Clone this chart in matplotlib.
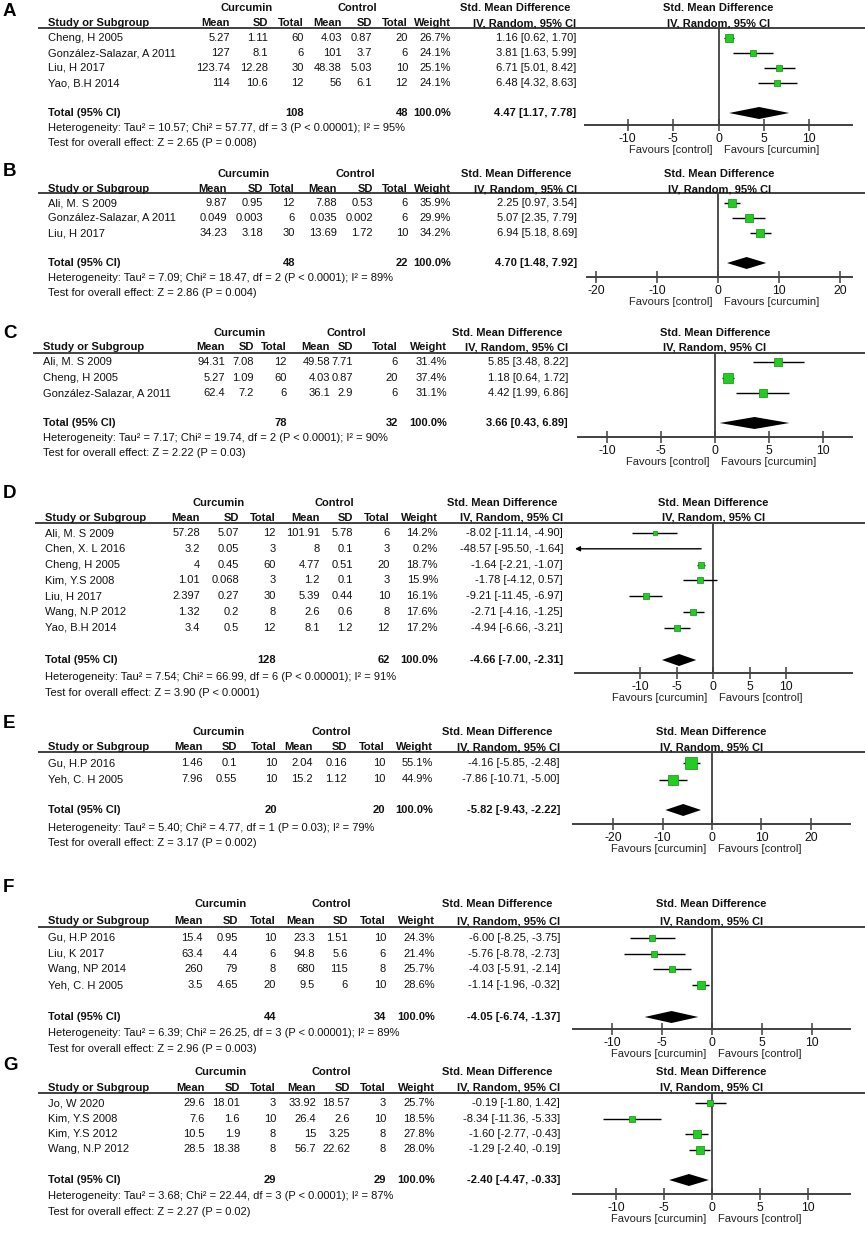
import matplotlib
matplotlib.use("Agg")
import matplotlib.pyplot as plt

plt.rcParams['font.family'] = ['Liberation Sans', 'DejaVu Sans']
plt.rcParams['axes.unicode_minus'] = False

# ---------------- DATA ----------------
A_study = ["Cheng, H 2005", "González-Salazar, A 2011", "Liu, H 2017", "Yao, B.H 2014"]
A_cur_mean = [5.27, 127, 123.74, 114]
A_cur_sd = [1.11, 8.1, 12.28, 10.6]
A_cur_n = [60, 6, 30, 12]
A_ctl_mean = [4.03, 101, 48.38, 56]
A_ctl_sd = [0.87, 3.7, 5.03, 6.1]
A_ctl_n = [20, 6, 10, 12]
A_weight = [26.7, 24.1, 25.1, 24.1]
A_smd = [1.16, 3.81, 6.71, 6.48]
A_lo = [0.62, 1.63, 5.01, 4.32]
A_hi = [1.70, 5.99, 8.42, 8.63]
A_total_n = [108, 48]
A_pooled = [4.47, 1.17, 7.78]
A_het = "Heterogeneity: Tau² = 10.57; Chi² = 57.77, df = 3 (P < 0.00001); I² = 95%"
A_test = "Test for overall effect: Z = 2.65 (P = 0.008)"
A_fav = ["Favours [control]", "Favours [curcumin]"]
A_ticks = [-10, -5, 0, 5, 10]

B_study = ["Ali, M. S 2009", "González-Salazar, A 2011", "Liu, H 2017"]
B_cur_mean = [9.87, 0.049, 34.23]
B_cur_sd = [0.95, 0.003, 3.18]
B_cur_n = [12, 6, 30]
B_ctl_mean = [7.88, 0.035, 13.69]
B_ctl_sd = [0.53, 0.002, 1.72]
B_ctl_n = [6, 6, 10]
B_weight = [35.9, 29.9, 34.2]
B_smd = [2.25, 5.07, 6.94]
B_lo = [0.97, 2.35, 5.18]
B_hi = [3.54, 7.79, 8.69]
B_total_n = [48, 22]
B_pooled = [4.70, 1.48, 7.92]
B_het = "Heterogeneity: Tau² = 7.09; Chi² = 18.47, df = 2 (P < 0.0001); I² = 89%"
B_test = "Test for overall effect: Z = 2.86 (P = 0.004)"
B_fav = ["Favours [control]", "Favours [curcumin]"]
B_ticks = [-20, -10, 0, 10, 20]

C_study = ["Ali, M. S 2009", "Cheng, H 2005", "González-Salazar, A 2011"]
C_cur_mean = [94.31, 5.27, 62.4]
C_cur_sd = [7.08, 1.09, 7.2]
C_cur_n = [12, 60, 6]
C_ctl_mean = [49.58, 4.03, 36.1]
C_ctl_sd = [7.71, 0.87, 2.9]
C_ctl_n = [6, 20, 6]
C_weight = [31.4, 37.4, 31.1]
C_smd = [5.85, 1.18, 4.42]
C_lo = [3.48, 0.64, 1.99]
C_hi = [8.22, 1.72, 6.86]
C_total_n = [78, 32]
C_pooled = [3.66, 0.43, 6.89]
C_het = "Heterogeneity: Tau² = 7.17; Chi² = 19.74, df = 2 (P < 0.0001); I² = 90%"
C_test = "Test for overall effect: Z = 2.22 (P = 0.03)"
C_fav = ["Favours [control]", "Favours [curcumin]"]
C_ticks = [-10, -5, 0, 5, 10]

D_study = ["Ali, M. S 2009", "Chen, X. L 2016", "Cheng, H 2005", "Kim, Y.S 2008",
           "Liu, H 2017", "Wang, N.P 2012", "Yao, B.H 2014"]
D_cur_mean = [57.28, 3.2, 4, 1.01, 2.397, 1.32, 3.4]
D_cur_sd = [5.07, 0.05, 0.45, 0.068, 0.27, 0.2, 0.5]
D_cur_n = [12, 3, 60, 3, 30, 8, 12]
D_ctl_mean = [101.91, 8, 4.77, 1.2, 5.39, 2.6, 8.1]
D_ctl_sd = [5.78, 0.1, 0.51, 0.1, 0.44, 0.6, 1.2]
D_ctl_n = [6, 3, 20, 3, 10, 8, 12]
D_weight = [14.2, 0.2, 18.7, 15.9, 16.1, 17.6, 17.2]
D_smd = [-8.02, -48.57, -1.64, -1.78, -9.21, -2.71, -4.94]
D_lo = [-11.14, -95.50, -2.21, -4.12, -11.45, -4.16, -6.66]
D_hi = [-4.90, -1.64, -1.07, 0.57, -6.97, -1.25, -3.21]
D_total_n = [128, 62]
D_pooled = [-4.66, -7.00, -2.31]
D_het = "Heterogeneity: Tau² = 7.54; Chi² = 66.99, df = 6 (P < 0.00001); I² = 91%"
D_test = "Test for overall effect: Z = 3.90 (P < 0.0001)"
D_fav = ["Favours [curcumin]", "Favours [control]"]
D_ticks = [-10, -5, 0, 5, 10]

E_study = ["Gu, H.P 2016", "Yeh, C. H 2005"]
E_cur_mean = [1.46, 7.96]
E_cur_sd = [0.1, 0.55]
E_cur_n = [10, 10]
E_ctl_mean = [2.04, 15.2]
E_ctl_sd = [0.16, 1.12]
E_ctl_n = [10, 10]
E_weight = [55.1, 44.9]
E_smd = [-4.16, -7.86]
E_lo = [-5.85, -10.71]
E_hi = [-2.48, -5.00]
E_total_n = [20, 20]
E_pooled = [-5.82, -9.43, -2.22]
E_het = "Heterogeneity: Tau² = 5.40; Chi² = 4.77, df = 1 (P = 0.03); I² = 79%"
E_test = "Test for overall effect: Z = 3.17 (P = 0.002)"
E_fav = ["Favours [curcumin]", "Favours [control]"]
E_ticks = [-20, -10, 0, 10, 20]

F_study = ["Gu, H.P 2016", "Liu, K 2017", "Wang, NP 2014", "Yeh, C. H 2005"]
F_cur_mean = [15.4, 63.4, 260, 3.5]
F_cur_sd = [0.95, 4.4, 79, 4.65]
F_cur_n = [10, 6, 8, 20]
F_ctl_mean = [23.3, 94.8, 680, 9.5]
F_ctl_sd = [1.51, 5.6, 115, 6]
F_ctl_n = [10, 6, 8, 10]
F_weight = [24.3, 21.4, 25.7, 28.6]
F_smd = [-6.00, -5.76, -4.03, -1.14]
F_lo = [-8.25, -8.78, -5.91, -1.96]
F_hi = [-3.75, -2.73, -2.14, -0.32]
F_total_n = [44, 34]
F_pooled = [-4.05, -6.74, -1.37]
F_het = "Heterogeneity: Tau² = 6.39; Chi² = 26.25, df = 3 (P < 0.00001); I² = 89%"
F_test = "Test for overall effect: Z = 2.96 (P = 0.003)"
F_fav = ["Favours [curcumin]", "Favours [control]"]
F_ticks = [-10, -5, 0, 5, 10]

G_study = ["Jo, W 2020", "Kim, Y.S 2008", "Kim, Y.S 2012", "Wang, N.P 2012"]
G_cur_mean = [29.6, 7.6, 10.5, 28.5]
G_cur_sd = [18.01, 1.6, 1.9, 18.38]
G_cur_n = [3, 10, 8, 8]
G_ctl_mean = [33.92, 26.4, 15, 56.7]
G_ctl_sd = [18.57, 2.6, 3.25, 22.62]
G_ctl_n = [3, 10, 8, 8]
G_weight = [25.7, 18.5, 27.8, 28.0]
G_smd = [-0.19, -8.34, -1.60, -1.29]
G_lo = [-1.80, -11.36, -2.77, -2.40]
G_hi = [1.42, -5.33, -0.43, -0.19]
G_total_n = [29, 29]
G_pooled = [-2.40, -4.47, -0.33]
G_het = "Heterogeneity: Tau² = 3.68; Chi² = 22.44, df = 3 (P < 0.0001); I² = 87%"
G_test = "Test for overall effect: Z = 2.27 (P = 0.02)"
G_fav = ["Favours [curcumin]", "Favours [control]"]
G_ticks = [-10, -5, 0, 5, 10]

# ---------------- LAYOUT ----------------
W, H = 865, 1260
FS = 8
GRAY = '#404040'
GREEN = '#22cc22'
EDGE = '#0c8c0c'

fig = plt.figure(figsize=(W / 100, H / 100), dpi=100)
bg = fig.add_axes([0, 0, 1, 1])
bg.set_xlim(0, W)
bg.set_ylim(H, 0)
bg.axis('off')

layouts = {
    'A': dict(letter=11, h1=8, h2=23, line=28, row0=38, step=15, total=113, het=128, test=143,
              axis=125, cols=[48, 230, 268, 304, 342, 372, 408, 451, 576],
              cur=247, ctl=357, smd=515, ax_l=585, ax_r=852, xlim=(-14.7, 14.7)),
    'B': dict(letter=172, h1=174, h2=189, line=193, row0=203, step=15, total=263, het=278, test=293,
              axis=277, cols=[48, 227, 263, 295, 337, 373, 408, 451, 577],
              cur=244, ctl=355, smd=516, ax_l=587, ax_r=852, xlim=(-21.5, 22.0)),
    'C': dict(letter=333, h1=333, h2=347, line=353, row0=362, step=15.6, total=423, het=438, test=453,
              axis=437, cols=[43, 225, 254, 287, 330, 353, 398, 447, 568],
              cur=240, ctl=346, smd=507, ax_l=578, ax_r=852, xlim=(-12.7, 12.7)),
    'D': dict(letter=493, h1=503, h2=518, line=523, row0=533, step=15.8, total=660, het=677, test=693,
              axis=673, cols=[45, 200, 239, 276, 320, 353, 390, 438, 563],
              cur=219, ctl=334, smd=502, ax_l=575, ax_r=852, xlim=(-18.9, 19.0)),
    'E': dict(letter=723, h1=732, h2=747, line=752, row0=763, step=16.5, total=810, het=828, test=843,
              axis=824, cols=[48, 203, 237, 277, 313, 347, 385, 433, 560],
              cur=219, ctl=331, smd=497, ax_l=573, ax_r=850, xlim=(-28.1, 27.9)),
    'F': dict(letter=888, h1=904, h2=921, line=927, row0=938, step=15.7, total=1017, het=1033, test=1049,
              axis=1029, cols=[48, 203, 238, 276, 315, 348, 386, 435, 560],
              cur=221, ctl=331, smd=497, ax_l=573, ax_r=850, xlim=(-13.9, 13.8)),
    'G': dict(letter=1065, h1=1072, h2=1088, line=1093, row0=1103, step=15.5, total=1180, het=1196, test=1212,
              axis=1194, cols=[48, 205, 240, 276, 316, 350, 386, 435, 560],
              cur=221, ctl=331, smd=497, ax_l=573, ax_r=850, xlim=(-14.5, 14.4)),
}

panels = {
    'A': (A_study, A_cur_mean, A_cur_sd, A_cur_n, A_ctl_mean, A_ctl_sd, A_ctl_n, A_weight,
          A_smd, A_lo, A_hi, A_total_n, A_pooled, A_het, A_test, A_fav, A_ticks),
    'B': (B_study, B_cur_mean, B_cur_sd, B_cur_n, B_ctl_mean, B_ctl_sd, B_ctl_n, B_weight,
          B_smd, B_lo, B_hi, B_total_n, B_pooled, B_het, B_test, B_fav, B_ticks),
    'C': (C_study, C_cur_mean, C_cur_sd, C_cur_n, C_ctl_mean, C_ctl_sd, C_ctl_n, C_weight,
          C_smd, C_lo, C_hi, C_total_n, C_pooled, C_het, C_test, C_fav, C_ticks),
    'D': (D_study, D_cur_mean, D_cur_sd, D_cur_n, D_ctl_mean, D_ctl_sd, D_ctl_n, D_weight,
          D_smd, D_lo, D_hi, D_total_n, D_pooled, D_het, D_test, D_fav, D_ticks),
    'E': (E_study, E_cur_mean, E_cur_sd, E_cur_n, E_ctl_mean, E_ctl_sd, E_ctl_n, E_weight,
          E_smd, E_lo, E_hi, E_total_n, E_pooled, E_het, E_test, E_fav, E_ticks),
    'F': (F_study, F_cur_mean, F_cur_sd, F_cur_n, F_ctl_mean, F_ctl_sd, F_ctl_n, F_weight,
          F_smd, F_lo, F_hi, F_total_n, F_pooled, F_het, F_test, F_fav, F_ticks),
    'G': (G_study, G_cur_mean, G_cur_sd, G_cur_n, G_ctl_mean, G_ctl_sd, G_ctl_n, G_weight,
          G_smd, G_lo, G_hi, G_total_n, G_pooled, G_het, G_test, G_fav, G_ticks),
}


def txt(x, y, s, ha='left', bold=False, size=FS):
    bg.text(x, y, s, fontsize=size, va='center', ha=ha,
            fontweight='bold' if bold else 'normal', color='#111111')


def ci_str(e, l, h):
    return f"{e:.2f} [{l:.2f}, {h:.2f}]"


def draw_panel(letter, d, L):
    (study, cm, cs, cn, km, ks, kn, wt, smd, lo, hi, totn, pooled, het, test, fav, ticks) = d
    c = L['cols']
    axc = (L['ax_l'] + L['ax_r']) / 2
    bg.text(3, L['letter'], letter, fontsize=13.5, fontweight='bold', va='center', ha='left')
    # header row 1
    txt(L['cur'], L['h1'], 'Curcumin', 'center', True)
    txt(L['ctl'], L['h1'], 'Control', 'center', True)
    txt(L['smd'], L['h1'], 'Std. Mean Difference', 'center', True)
    txt(axc, L['h1'], 'Std. Mean Difference', 'center', True)
    # header row 2
    txt(c[0], L['h2'], 'Study or Subgroup', 'left', True)
    for x, s in zip(c[1:8], ['Mean', 'SD', 'Total', 'Mean', 'SD', 'Total', 'Weight']):
        txt(x, L['h2'], s, 'right', True)
    txt(c[8], L['h2'], 'IV, Random, 95% CI', 'right', True)
    txt(axc, L['h2'], 'IV, Random, 95% CI', 'center', True)
    bg.plot([c[0] - 10, W], [L['line'], L['line']], color=GRAY, lw=1.4, solid_capstyle='butt')
    # rows
    for i, name in enumerate(study):
        y = L['row0'] + i * L['step']
        txt(c[0], y, name)
        vals = [f"{cm[i]:g}", f"{cs[i]:g}", f"{cn[i]}", f"{km[i]:g}", f"{ks[i]:g}", f"{kn[i]}",
                f"{wt[i]:.1f}%"]
        for x, s in zip(c[1:8], vals):
            txt(x, y, s, 'right')
        txt(c[8], y, ci_str(smd[i], lo[i], hi[i]), 'right')
    # total
    yt = L['total']
    txt(c[0], yt, 'Total (95% CI)', 'left', True)
    txt(c[3], yt, str(totn[0]), 'right', True)
    txt(c[6], yt, str(totn[1]), 'right', True)
    txt(c[7], yt, '100.0%', 'right', True)
    txt(c[8], yt, ci_str(*pooled), 'right', True)
    txt(c[0], L['het'], het)
    txt(c[0], L['test'], test)

    # forest axes
    ax = fig.add_axes([L['ax_l'] / W, 1 - L['axis'] / H,
                       (L['ax_r'] - L['ax_l']) / W, (L['axis'] - L['line']) / H])
    ax.set_xlim(*L['xlim'])
    ax.set_ylim(L['axis'], L['line'])
    ax.patch.set_alpha(0)
    for s in ['top', 'left', 'right']:
        ax.spines[s].set_visible(False)
    ax.spines['bottom'].set_color(GRAY)
    ax.spines['bottom'].set_linewidth(1.4)
    ax.set_yticks([])
    ax.set_xticks(ticks)
    ax.set_xticklabels([str(t) for t in ticks])
    ax.tick_params(axis='x', direction='inout', length=8, width=1.1, color=GRAY,
                   labelsize=8.8, pad=1.5, labelcolor='#111111')
    ax.axvline(0, color=GRAY, lw=1.3)
    xmin, xmax = L['xlim']
    for i in range(len(study)):
        y = L['row0'] + i * L['step']
        if lo[i] < xmin:
            ax.annotate('', xy=(xmin, y), xytext=(hi[i], y),
                        arrowprops=dict(arrowstyle='-|>', color='black', lw=1.0,
                                        mutation_scale=7, shrinkA=0, shrinkB=0),
                        annotation_clip=False)
        else:
            ax.plot([lo[i], hi[i]], [y, y], color='black', lw=1.0, solid_capstyle='butt')
        if xmin <= smd[i] <= xmax:
            side = 0.19 * wt[i] + 2.0
            ax.plot(smd[i], y, marker='s', ms=side * 0.72, mfc=GREEN, mec=EDGE, mew=0.5,
                    linestyle='none', zorder=5)
    e, l, h = pooled
    ax.fill([l, e, h, e], [yt, yt - 6, yt, yt + 6], color='black', lw=0, zorder=5)
    ax.annotate(fav[0], xy=(0, L['axis']), xycoords='data', xytext=(-4, -18),
                textcoords='offset points', ha='right', va='center', fontsize=FS, color='#222222')
    ax.annotate(fav[1], xy=(0, L['axis']), xycoords='data', xytext=(4, -18),
                textcoords='offset points', ha='left', va='center', fontsize=FS, color='#222222')


for key in ['A', 'B', 'C', 'D', 'E', 'F', 'G']:
    draw_panel(key, panels[key], layouts[key])

fig.savefig('out.png', dpi=100, facecolor='white')
